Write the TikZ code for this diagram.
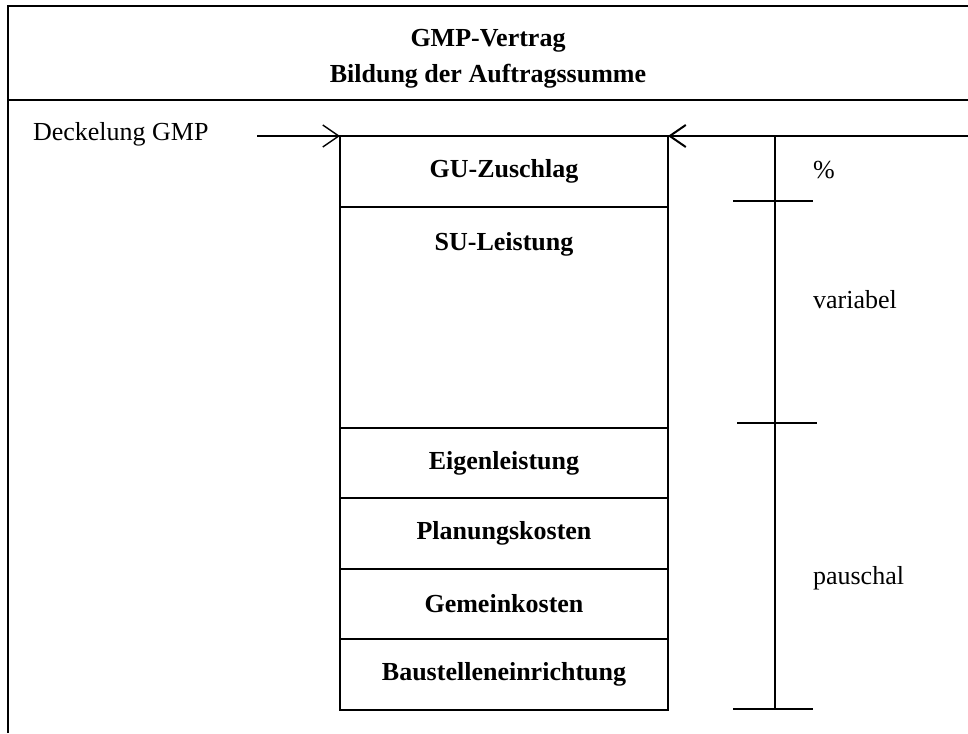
\documentclass[tikz,border=0pt]{standalone}
\usepackage{fontspec}
\setmainfont{Liberation Serif}
\usetikzlibrary{positioning,arrows.meta}

\newcommand\diafont{\fontsize{13}{15.6}\selectfont}

\tikzset{
  part/.style={draw, line width=0.7pt, minimum width=164pt, outer sep=0pt,
    font=\diafont\bfseries},
  capline/.style={-{Straight Barb[length=8pt,width=11pt]}},
}

\begin{document}
\begin{tikzpicture}[x=0.5pt, y=-0.5pt, font=\diafont]
  \useasboundingbox (0,0) rectangle (968,733);

  % frame and title
  \draw[line width=1.3pt] (8,733) -- (8,6) -- (968,6);
  \draw[line width=1.3pt] (8,100) -- (968,100);
  \node[font=\diafont\bfseries, anchor=base] (title) at (488,47) {GMP-Vertrag};
  \node[font=\diafont\bfseries, anchor=base] (subtitle) at (488,83) {Bildung der Auftragssumme};

  % column of cost parts
  \node[part, minimum height=35.5pt, anchor=north west] (gu) at (340,136) {GU-Zuschlag};
  \node[part, minimum height=110.5pt, below=0pt of gu] (su) {};
  \node[font=\diafont\bfseries, below=9pt of su.north] (sutext) {SU-Leistung};
  \node[part, minimum height=35pt, below=0pt of su] (eigen) {Eigenleistung};
  \node[part, minimum height=35.5pt, below=0pt of eigen] (plan) {Planungskosten};
  \node[part, minimum height=35pt, below=0pt of plan] (gemein) {Gemeinkosten};
  \node[part, minimum height=35.5pt, below=0pt of gemein] (baust) {Baustelleneinrichtung};

  % cap arrows
  \node[anchor=west] (deckel) at (26,134) {Deckelung GMP};
  \coordinate (lstart) at (257,136);
  \coordinate (rstart) at (968,136);
  \draw[capline, line width=0.7pt] (lstart) -- (gu.north west);
  \draw[capline, line width=1pt] (rstart) -- (gu.north east);

  % scale bar
  \coordinate (bartop) at (775,136);
  \coordinate (barbot) at (775,710);
  \draw[line width=1pt] (bartop) -- (barbot);
  \foreach \x/\y in {733/201, 737/423, 733/709}
    \draw[line width=1pt] (\x,\y) -- ++(80,0);
  \node[anchor=west] (pct) at (806,170) {\%};
  \node[anchor=west] (var) at (806,300) {variabel};
  \node[anchor=west] (pau) at (806,578) {pauschal};
\end{tikzpicture}
\end{document}
